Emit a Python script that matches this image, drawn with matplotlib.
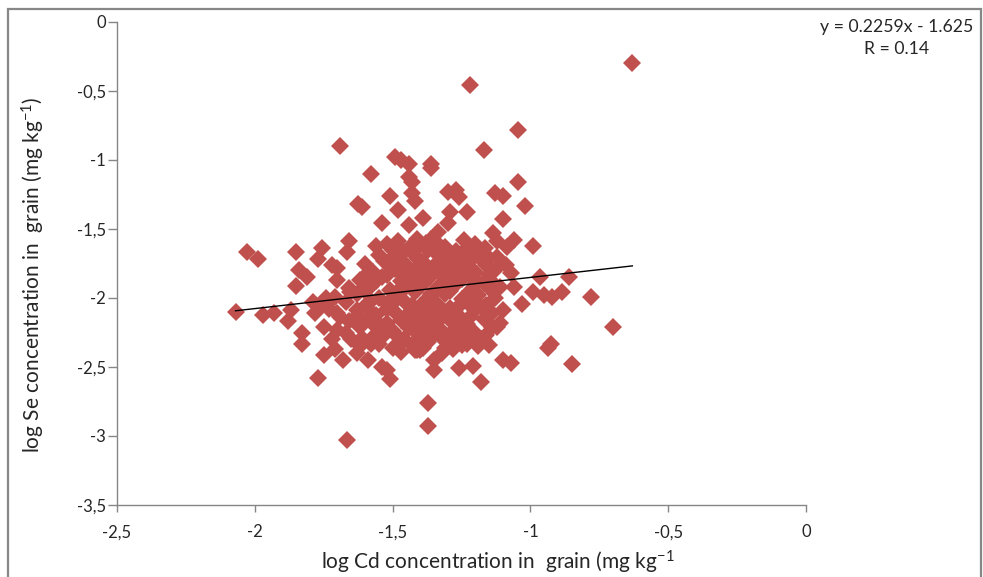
"""Scatter of log Se vs log Cd in grain, with linear trend line."""

import matplotlib
matplotlib.use("Agg")
import matplotlib.pyplot as plt
from matplotlib.patches import Rectangle
import numpy as np

# --- data (log10 values) ---
# sparse / outlying points
outer_cd = [
    -0.63, -1.22, -1.045, -1.69, -1.17, -1.49, -1.47, -1.44, -1.36, -1.36,
    -1.58, -1.44, -1.43, -1.045, -1.13, -1.10, -1.27, -1.26, -1.30, -1.51,
    -1.43, -1.42, -1.625, -1.61, -1.48, -1.02, -1.23, -1.29, -1.30, -1.39,
    -1.54, -1.44, -1.10, -1.135, -1.12, -1.06, -1.085, -0.99, -1.165, -1.15,
    -1.12, -2.07, -2.03, -1.99, -1.97, -1.93, -1.87, -1.88, -1.83, -1.83,
    -1.85, -1.84, -1.81, -1.85, -1.756, -1.77, -1.72, -1.70, -1.70, -1.66,
    -1.665, -1.56, -1.59, -1.655, -1.50, -1.47, -1.41, -1.36, -1.335, -0.965,
    -0.86, -1.03, -0.99, -0.95, -0.92, -0.885, -0.78, -0.70, -1.10, -1.11,
    -1.06, -1.11, -1.145, -1.20, -0.925, -0.935, -0.85, -1.10, -1.07, -1.18,
    -1.21, -1.26, -1.37, -1.37, -1.15, -1.35, -1.42, -1.77, -1.665, -1.75,
    -1.68, -1.54, -1.51, -1.52, -1.59, -1.41, -1.78, -1.75, -1.72, -1.69,
    -1.65, -1.62, -1.58, -1.545, -1.48, -1.45, -1.40, -1.35, -1.33, -1.79,
    -1.74, -1.76, -1.09, -1.07, -1.12, -1.18, -1.28, -1.23, -1.32, -1.19,
    -1.73, -1.67, -1.63, -1.71,
]
outer_se = [
    -0.30, -0.46, -0.78, -0.90, -0.93, -0.98, -1.00, -1.03, -1.03, -1.06,
    -1.10, -1.12, -1.16, -1.16, -1.24, -1.26, -1.22, -1.27, -1.23, -1.26,
    -1.24, -1.30, -1.32, -1.34, -1.36, -1.33, -1.38, -1.38, -1.46, -1.42,
    -1.46, -1.47, -1.43, -1.53, -1.59, -1.58, -1.63, -1.62, -1.64, -1.71,
    -1.70, -2.10, -1.67, -1.72, -2.12, -2.11, -2.09, -2.17, -2.25, -2.33,
    -1.67, -1.80, -1.85, -1.91, -1.64, -1.72, -1.76, -1.78, -1.87, -1.59,
    -1.67, -1.62, -1.82, -1.96, -1.70, -1.78, -1.63, -1.57, -1.52, -1.85,
    -1.85, -2.04, -1.96, -1.98, -1.99, -1.96, -1.99, -2.21, -2.09, -2.18,
    -1.92, -1.92, -1.87, -1.86, -2.33, -2.36, -2.48, -2.45, -2.47, -2.61,
    -2.49, -2.51, -2.76, -2.93, -2.34, -2.52, -2.38, -2.58, -3.03, -2.41,
    -2.45, -2.50, -2.59, -2.52, -2.45, -2.38, -2.11, -2.21, -2.30, -2.14,
    -2.30, -2.21, -2.33, -2.25, -2.35, -2.16, -2.38, -2.45, -2.16, -2.03,
    -2.00, -2.06, -1.76, -1.82, -2.21, -2.30, -2.30, -2.33, -2.40, -2.35,
    -2.08, -2.25, -2.40, -2.37,
]

# dense core of the cloud
core_cd = [
    -1.52, -1.44, -1.38, -1.31, -1.27, -1.20,
    -1.55, -1.46, -1.41, -1.34, -1.29, -1.24, -1.18,
    -1.60, -1.53, -1.45, -1.39, -1.35, -1.30, -1.22, -1.16,
    -1.57, -1.49, -1.43, -1.37, -1.32, -1.27, -1.20, -1.13,
    -1.62, -1.54, -1.47, -1.41, -1.36, -1.31, -1.25, -1.17,
    -1.66, -1.58, -1.51, -1.45, -1.39, -1.34, -1.28, -1.22, -1.15,
    -1.71, -1.63, -1.55, -1.48, -1.42, -1.37, -1.31, -1.25, -1.19, -1.13,
    -1.74, -1.67, -1.60, -1.52, -1.46, -1.40, -1.34, -1.29, -1.23, -1.16,
    -1.70, -1.63, -1.56, -1.49, -1.43, -1.38, -1.32, -1.26, -1.20, -1.14,
    -1.66, -1.59, -1.52, -1.47, -1.41, -1.36, -1.29, -1.23, -1.17,
    -1.70, -1.56, -1.50, -1.44, -1.38, -1.32, -1.26, -1.20, -1.14,
    -1.61, -1.53, -1.46, -1.40, -1.35, -1.29, -1.24, -1.16,
    -1.62, -1.55, -1.50, -1.43, -1.37, -1.31, -1.25,
    # in-between points filling the blob
    -1.48, -1.41, -1.34, -1.24, -1.50, -1.37, -1.22,
    -1.48, -1.42, -1.32, -1.26, -1.19, -1.51, -1.41, -1.33, -1.24,
    -1.52, -1.46, -1.39, -1.29, -1.22, -1.15, -1.56, -1.44, -1.33, -1.27, -1.20,
    -1.60, -1.48, -1.36, -1.29, -1.21, -1.58, -1.49, -1.43, -1.37, -1.26, -1.20,
    -1.59, -1.52, -1.41, -1.35, -1.29, -1.17, -1.63, -1.45, -1.33, -1.22,
    -1.55, -1.44, -1.39, -1.26, -1.53, -1.41, -1.35, -1.29, -1.22,
    -1.58, -1.49, -1.32, -1.21, -1.47, -1.39, -1.28,
]
core_se = [
    -1.61, -1.64, -1.60, -1.63, -1.66, -1.61,
    -1.69, -1.67, -1.71, -1.68, -1.70, -1.66, -1.72,
    -1.75, -1.73, -1.76, -1.74, -1.77, -1.75, -1.73, -1.76,
    -1.81, -1.79, -1.82, -1.80, -1.83, -1.79, -1.81, -1.80,
    -1.87, -1.85, -1.88, -1.86, -1.84, -1.88, -1.86, -1.89,
    -1.93, -1.91, -1.94, -1.92, -1.90, -1.94, -1.92, -1.95, -1.93,
    -1.99, -1.97, -2.00, -1.98, -1.96, -2.00, -1.97, -2.01, -1.98, -2.00,
    -2.05, -2.03, -2.06, -2.04, -2.02, -2.06, -2.04, -2.07, -2.03, -2.05,
    -2.11, -2.09, -2.12, -2.10, -2.08, -2.12, -2.10, -2.13, -2.09, -2.11,
    -2.17, -2.15, -2.18, -2.16, -2.14, -2.18, -2.16, -2.19, -2.15,
    -2.23, -2.21, -2.24, -2.22, -2.20, -2.24, -2.22, -2.25, -2.21,
    -2.29, -2.27, -2.30, -2.28, -2.26, -2.30, -2.28, -2.27,
    -2.35, -2.33, -2.36, -2.34, -2.32, -2.36, -2.34,
    -1.59, -1.57, -1.60, -1.58, -1.65, -1.65, -1.63,
    -1.72, -1.69, -1.72, -1.71, -1.69, -1.77, -1.78, -1.78, -1.77,
    -1.83, -1.84, -1.83, -1.85, -1.84, -1.83, -1.88, -1.90, -1.91, -1.89, -1.90,
    -1.95, -1.95, -1.97, -1.95, -1.96, -2.02, -2.02, -2.05, -2.03, -2.06, -2.02,
    -2.08, -2.08, -2.10, -2.08, -2.12, -2.08, -2.13, -2.13, -2.14, -2.14,
    -2.19, -2.19, -2.17, -2.19, -2.22, -2.25, -2.22, -2.26, -2.24,
    -2.30, -2.26, -2.29, -2.29, -2.39, -2.36, -2.37,
]

slope, intercept = 0.2259, -1.625
r_value = 0.14

x_ticks = [-2.5, -2, -1.5, -1, -0.5, 0]
x_ticklabels = ["-2,5", "-2", "-1,5", "-1", "-0,5", "0"]
y_ticks = [0, -0.5, -1, -1.5, -2, -2.5, -3, -3.5]
y_ticklabels = ["0", "-0,5", "-1", "-1,5", "-2", "-2,5", "-3", "-3,5"]

plt.rcParams["font.family"] = ["Lato", "DejaVu Sans"]
plt.rcParams["mathtext.fontset"] = "custom"
plt.rcParams["mathtext.rm"] = "Lato"
plt.rcParams["mathtext.it"] = "Lato:italic"
plt.rcParams["mathtext.bf"] = "Lato:bold"

cd = np.array(outer_cd + core_cd)
se = np.array(outer_se + core_se)

fig = plt.figure(figsize=(9.83, 5.77), dpi=100)
ax = fig.add_axes([117 / 983, 1 - 505 / 577, (806 - 117) / 983, (505 - 22) / 577])

ax.plot(cd, se, linestyle="none", marker="D", markersize=9,
        color="#C0504D", markeredgewidth=0)

xs = np.array([cd.min(), cd.max()])
ax.plot(xs, slope * xs + intercept, color="black", linewidth=1.0)

ax.set_xlim(-2.5, 0)
ax.set_ylim(-3.5, 0)
ax.set_xticks(x_ticks)
ax.set_xticklabels(x_ticklabels)
ax.set_yticks(y_ticks)
ax.set_yticklabels(y_ticklabels)

for side in ("top", "right"):
    ax.spines[side].set_visible(False)
for side in ("left", "bottom"):
    ax.spines[side].set_color("#868686")
    ax.spines[side].set_linewidth(1.0)
ax.tick_params(axis="both", colors="#868686", labelcolor="#262626",
               labelsize=12, direction="out", width=1.0)
ax.tick_params(axis="y", length=6.5, pad=1.5)
ax.tick_params(axis="x", length=5, pad=9)

fig.text(33 / 983, 1 - 275 / 577,
         "log Se concentration in  grain (mg kg$^{\\mathrm{-1}}$)",
         fontsize=15, color="#262626", ha="center", va="center", rotation=90)
fig.text(498 / 983, 1 - 570 / 577,
         "log Cd concentration in  grain (mg kg$^{\\mathrm{-1}}$",
         fontsize=15, color="#262626", ha="center", va="baseline")

fig.text(897 / 983, 1 - 27 / 577, f"y = {slope}x - {abs(intercept)}",
         fontsize=12.7, color="#262626", ha="center", va="center")
fig.text(897 / 983, 1 - 49 / 577, f"R = {r_value}",
         fontsize=12.7, color="#262626", ha="center", va="center")

# grey chart-area frame (bottom edge falls outside the picture)
fig.patches.append(Rectangle((8 / 983, -0.05), (981 - 8) / 983, 1.05 - 9 / 577,
                             transform=fig.transFigure, fill=False,
                             edgecolor="#878787", linewidth=1.6))

fig.savefig("out.png", dpi=100)
